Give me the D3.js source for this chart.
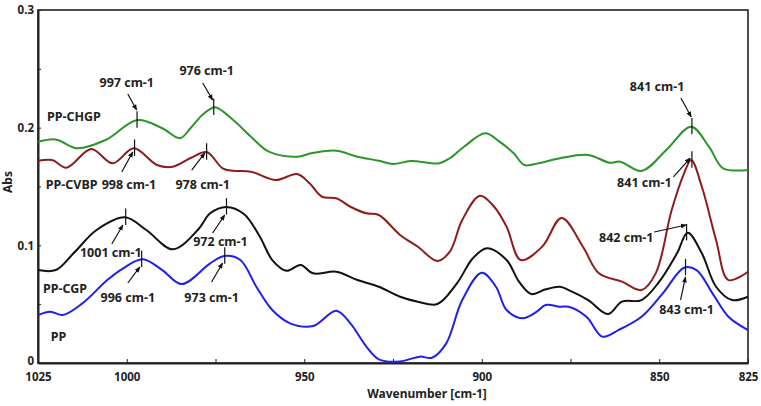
<!DOCTYPE html>
<html>
<head>
<meta charset="utf-8">
<style>
  body { margin: 0; background: #fff; }
  text { font-family: "Noto Sans", "Liberation Sans", sans-serif; font-weight: bold; fill: #222; }
  .axis path, .axis line { stroke: #222; }
  .axis path { stroke-width: 2px; }
  .axis text { font-size: 11.5px; }
  .spectrum { fill: none; stroke-width: 2px; }
  .ann text { font-size: 12.5px; }
  .ann line { stroke: #111; stroke-width: 1.2px; }
</style>
</head>
<body>
<div id="chart"></div>
<script src="https://cdn.jsdelivr.net/npm/d3@7"></script>
<script>
  // spectra: wavenumber [cm-1] / absorbance
  var wnCHGP = [1025,1020,1014,1006,997,990,985,982,979,977,975,970,965,960,952,948,941,935,929,925,920,912,909,905,899,895,891,888,884,878,870,864,861,855,848,841,836,832,825];
  var absCHGP = [0.188,0.190,0.1825,0.1895,0.2065,0.1995,0.191,0.1997,0.21,0.215,0.2173,0.2065,0.1923,0.1796,0.1753,0.1782,0.1804,0.1753,0.1719,0.1691,0.1717,0.1697,0.174,0.1838,0.1952,0.1881,0.1782,0.1683,0.1697,0.174,0.1768,0.1702,0.1711,0.1632,0.181,0.2008,0.1838,0.1655,0.164];

  var wnCVBP = [1025,1021,1017,1010,1004,998,991.5,987,982,977.5,973,970,965,958,952,948.5,945,941,937,932.5,929,923,918,912.5,909,905.5,900.5,896.5,893,889,883,877.5,871.5,867,860.5,855,851,846.5,843,841,838,834,830.5,825];
  var absCVBP = [0.1719,0.1725,0.166,0.1819,0.1697,0.1825,0.1683,0.1668,0.1742,0.1793,0.1655,0.1634,0.1626,0.1555,0.1606,0.1527,0.1413,0.14,0.1328,0.1272,0.1258,0.1088,0.0988,0.0867,0.0946,0.1215,0.1422,0.1328,0.1158,0.0875,0.0988,0.1232,0.0988,0.0762,0.0691,0.062,0.0762,0.13,0.1612,0.1725,0.1498,0.1045,0.0705,0.0776];

  var wnCGP = [1025,1020,1015,1008.5,1000.5,994.5,987,980,976.5,972,967,962.5,959,955,951,947.5,941,935,929,923,918,912.5,907,902.5,898.5,893,889.5,886,882,878,875.5,870,864.5,860.5,855,850,845,842,838,834,829.5,825];
  var absCGP = [0.079,0.079,0.0932,0.113,0.1238,0.113,0.0966,0.113,0.1272,0.1326,0.1266,0.1073,0.0875,0.0784,0.0833,0.0762,0.0776,0.0705,0.0648,0.0563,0.0521,0.0501,0.0677,0.089,0.0975,0.0875,0.0691,0.0586,0.0626,0.0648,0.062,0.0535,0.0416,0.0521,0.0535,0.0691,0.0932,0.1107,0.0932,0.0648,0.0535,0.0563];

  var wnPP = [1025,1021.5,1018,1012.5,1005.5,1001,995.5,990,984.5,976.5,972.5,968,963.5,959,954,947.5,941,937,932.5,929,923,917.5,914,910,905.5,900,896,893,888.5,884.5,882,878,875.5,870.5,866,861.5,855,849,843,839.5,835,830.5,825];
  var absPP = [0.0408,0.0436,0.0408,0.0507,0.0705,0.0805,0.0881,0.079,0.0671,0.0847,0.0909,0.0875,0.0648,0.045,0.0337,0.0314,0.0444,0.0337,0.0139,0.0031,0.0013,0.0054,0.0045,0.0167,0.0535,0.0767,0.0648,0.045,0.038,0.0436,0.0493,0.0478,0.0478,0.0393,0.0224,0.028,0.0393,0.0592,0.081,0.079,0.0592,0.0393,0.028];

  var seriesNames = ["PP-CHGP", "PP-CVBP", "PP-CGP", "PP"];
  var seriesColors = ["#2a952a", "#8e1c1c", "#111111", "#1f1fee"];
  // where each series name sits (wavenumber, abs)
  var seriesLabelAt = [[1022.5, 0.2091], [1022.8, 0.1513], [1023.6, 0.0629], [1021.4, 0.0221]];

  // peak annotations
  var annText = ["997 cm-1", "976 cm-1", "841 cm-1", "998 cm-1", "978 cm-1", "841 cm-1",
                 "1001 cm-1", "972 cm-1", "842 cm-1", "996 cm-1", "973 cm-1", "843 cm-1"];
  var annPeak = [[997.1, 0.2065], [975.5, 0.2173], [840.8, 0.2008], [997.8, 0.1825], [977.5, 0.1793], [840.8, 0.1725],
                 [1000.3, 0.1238], [971.9, 0.1326], [842.3, 0.1107], [995.8, 0.0881], [972.4, 0.0909], [842.6, 0.081]];
  var annLabel = [[1000.0, 0.238], [977.5, 0.2482], [850.6, 0.2346], [999.4, 0.1513], [978.6, 0.1513], [854.2, 0.153],
                  [1004.5, 0.0935], [973.6, 0.1028], [859.3, 0.1062], [999.7, 0.0552], [976.1, 0.0552], [842.3, 0.045]];
  var annFrom = [[999.7, 0.2286], [978.6, 0.238], [843.9, 0.2252], [1001.4, 0.1623], [981.7, 0.164], [846.0, 0.1581],
                 [1004.2, 0.1011], [975.8, 0.1105], [851.4, 0.1113], [999.7, 0.068], [976.1, 0.0688], [844.0, 0.0535]];
  var annTo = [[997.2, 0.215], [975.8, 0.2235], [841.0, 0.209], [998.3, 0.1793], [978.0, 0.1785], [841.3, 0.1742],
               [1001.1, 0.1173], [972.4, 0.1258], [842.4, 0.1173], [996.3, 0.0816], [973.0, 0.085], [842.6, 0.0731]];

  var xTicks = [1025, 1000, 975, 950, 925, 900, 875, 850, 825];
  var xTickLabels = ["1025", "1000", "", "950", "", "900", "", "850", "825"];
  var yTicks = [0, 0.05, 0.1, 0.15, 0.2, 0.25, 0.3];
  var yTickLabels = ["0", "", "0.1", "", "0.2", "", "0.3"];

  var width = 761, height = 406;
  var plotLeft = 38, plotRight = 748, plotTop = 10, plotBottom = 363;

  var x = d3.scaleLinear().domain([1025, 825]).range([plotLeft, plotRight]);
  var y = d3.scaleLinear().domain([0, 0.3]).range([plotBottom, plotTop]);

  var svg = d3.select("#chart").append("svg")
      .attr("width", width)
      .attr("height", height);

  svg.append("defs").append("marker")
      .attr("id", "head")
      .attr("viewBox", "0 0 10 10")
      .attr("refX", 9).attr("refY", 5)
      .attr("markerWidth", 6).attr("markerHeight", 6)
      .attr("markerUnits", "userSpaceOnUse")
      .attr("orient", "auto")
    .append("path")
      .attr("d", "M0,1L10,5L0,9Z")
      .attr("fill", "#111");

  // frame
  svg.append("rect")
      .attr("x", plotLeft).attr("y", plotTop)
      .attr("width", plotRight - plotLeft).attr("height", plotBottom - plotTop)
      .attr("fill", "none").attr("stroke", "#222").attr("stroke-width", 1.6);

  svg.append("g")
      .attr("class", "axis")
      .attr("transform", "translate(0," + plotBottom + ")")
      .call(d3.axisBottom(x).tickValues(xTicks).tickSizeInner(-4).tickSizeOuter(0).tickPadding(10)
          .tickFormat(function (d, i) { return xTickLabels[i]; }))
      .call(function (g) { g.selectAll("text").attr("fill", "#222"); });

  svg.append("g")
      .attr("class", "axis")
      .attr("transform", "translate(" + plotLeft + ",0)")
      .call(d3.axisLeft(y).tickValues(yTicks).tickSizeInner(-3).tickSizeOuter(0).tickPadding(4)
          .tickFormat(function (d, i) { return yTickLabels[i]; }))
      .call(function (g) {
        g.selectAll("text").attr("fill", "#222");
        g.selectAll(".tick").filter(function (d) { return d === 0; }).select("text").attr("dy", "0.1em");
      });

  svg.append("text")
      .attr("x", 427).attr("y", 398)
      .attr("text-anchor", "middle")
      .style("font-size", "12px")
      .text("Wavenumber [cm-1]");

  svg.append("text")
      .attr("transform", "translate(12,182) rotate(-90)")
      .attr("text-anchor", "middle")
      .style("font-size", "12px")
      .text("Abs");

  var line = d3.line()
      .x(function (d) { return x(d[0]); })
      .y(function (d) { return y(d[1]); })
      .curve(d3.curveCatmullRom.alpha(0.5));

  var series = [
    d3.zip(wnCHGP, absCHGP),
    d3.zip(wnCVBP, absCVBP),
    d3.zip(wnCGP, absCGP),
    d3.zip(wnPP, absPP)
  ];

  svg.selectAll(".spectrum")
      .data(series)
    .enter().append("path")
      .attr("class", "spectrum")
      .attr("stroke", function (d, i) { return seriesColors[i]; })
      .attr("d", line);

  svg.selectAll(".sname")
      .data(seriesNames)
    .enter().append("text")
      .attr("class", "sname")
      .attr("x", function (d, i) { return x(seriesLabelAt[i][0]); })
      .attr("y", function (d, i) { return y(seriesLabelAt[i][1]); })
      .attr("dy", "0.35em")
      .style("font-size", "12.5px")
      .text(function (d) { return d; });

  var ann = svg.selectAll(".ann")
      .data(annText)
    .enter().append("g")
      .attr("class", "ann");

  ann.append("line")
      .attr("x1", function (d, i) { return x(annPeak[i][0]); })
      .attr("x2", function (d, i) { return x(annPeak[i][0]); })
      .attr("y1", function (d, i) { return y(annPeak[i][1] + 0.0075); })
      .attr("y2", function (d, i) { return y(annPeak[i][1] - 0.0065); });

  ann.append("line")
      .attr("x1", function (d, i) { return x(annFrom[i][0]); })
      .attr("y1", function (d, i) { return y(annFrom[i][1]); })
      .attr("x2", function (d, i) { return x(annTo[i][0]); })
      .attr("y2", function (d, i) { return y(annTo[i][1]); })
      .attr("marker-end", "url(#head)");

  ann.append("text")
      .attr("x", function (d, i) { return x(annLabel[i][0]); })
      .attr("y", function (d, i) { return y(annLabel[i][1]); })
      .attr("dy", "0.35em")
      .attr("text-anchor", "middle")
      .text(function (d) { return d; });
</script>
</body>
</html>
